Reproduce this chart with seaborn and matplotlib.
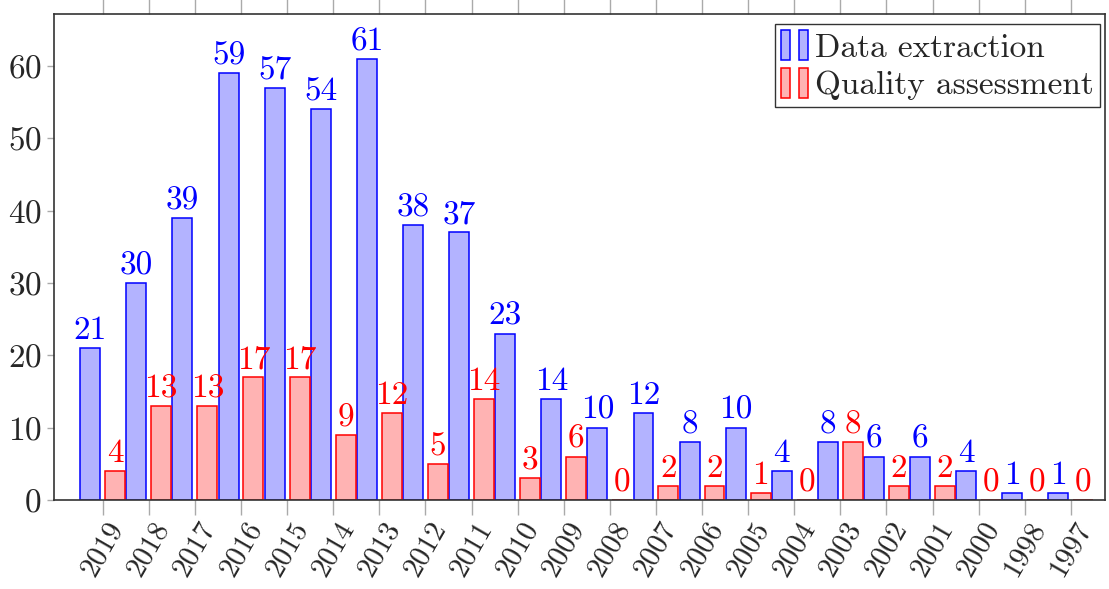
import matplotlib
matplotlib.use('Agg')
import matplotlib.pyplot as plt
from matplotlib.patches import Rectangle
from matplotlib.legend_handler import HandlerTuple
import pandas as pd
import seaborn as sns

# data
years = ['2019', '2018', '2017', '2016', '2015', '2014', '2013', '2012', '2011', '2010', '2009',
         '2008', '2007', '2006', '2005', '2004', '2003', '2002', '2001', '2000', '1998', '1997']
data_extraction = [21, 30, 39, 59, 57, 54, 61, 38, 37, 23, 14, 10, 12, 8, 10, 4, 8, 6, 6, 4, 1, 1]
quality_assessment = [4, 13, 13, 17, 17, 9, 12, 5, 14, 3, 6, 0, 2, 2, 1, 0, 8, 2, 2, 0, 0, 0]
series = ['Data extraction', 'Quality assessment']

fills = {'Data extraction': '#b3b3ff', 'Quality assessment': '#ffb3b3'}
edges = {'Data extraction': '#0000ff', 'Quality assessment': '#ff0000'}

df = pd.DataFrame({
    'year': years * 2,
    'count': data_extraction + quality_assessment,
    'series': [series[0]] * len(years) + [series[1]] * len(years),
})

sns.set_style('white')
plt.rcParams['font.family'] = ['cmr10', 'DejaVu Serif']
plt.rcParams['axes.formatter.use_mathtext'] = True

FS = 24

fig = plt.figure(figsize=(11.09, 5.89), dpi=100)
ax = fig.add_axes([54 / 1109, 1 - 500 / 589, (1105 - 54) / 1109, (500 - 14) / 589])

sns.barplot(data=df, x='year', y='count', hue='series', order=years, hue_order=series,
            palette=fills, saturation=1, width=1.08, gap=0.2, linewidth=1.1,
            legend=False, ax=ax)

for cont, name in zip(ax.containers, series):
    for p in cont.patches:
        p.set_edgecolor(edges[name])
    ax.bar_label(cont, labels=[str(int(v)) for v in cont.datavalues], padding=2,
                 color=edges[name], fontsize=FS)

ax.set_xlim(-1.056, 21.74)
ax.set_ylim(0, 67.2)
ax.set_yticks([0, 10, 20, 30, 40, 50, 60])
ax.set_xlabel('')
ax.set_ylabel('')

for s in ax.spines.values():
    s.set_color('#333333')
    s.set_linewidth(1.2)

ax.tick_params(axis='x', which='both', bottom=True, top=True, direction='out', length=11,
               color='#aaaaaa', width=1, labelsize=21, pad=1)
ax.tick_params(axis='y', left=True, right=False, direction='out', length=5,
               color='#aaaaaa', width=1, labelsize=FS, pad=4)
for lbl in ax.get_xticklabels():
    lbl.set_rotation(60)
    lbl.set_ha('center')
    lbl.set_va('top')

# legend with paired bars, like pgfplots draws it
handles = []
for name in series:
    a = Rectangle((0, 0), 1, 1, facecolor=fills[name], edgecolor=edges[name], linewidth=1.1)
    b = Rectangle((0, 0), 1, 1, facecolor=fills[name], edgecolor=edges[name], linewidth=1.1)
    handles.append((a, b))
leg = ax.legend(handles, series, handler_map={tuple: HandlerTuple(ndivide=None, pad=0.25)},
                loc='upper right', bbox_to_anchor=(0.9952, 0.98), borderaxespad=0,
                fontsize=FS, frameon=True, fancybox=False, edgecolor='black',
                handlelength=0.8, handleheight=1.0, handletextpad=0.2, labelspacing=0.15,
                borderpad=0.2)
leg.get_frame().set_linewidth(1.0)

fig.savefig('out.png', dpi=100)
